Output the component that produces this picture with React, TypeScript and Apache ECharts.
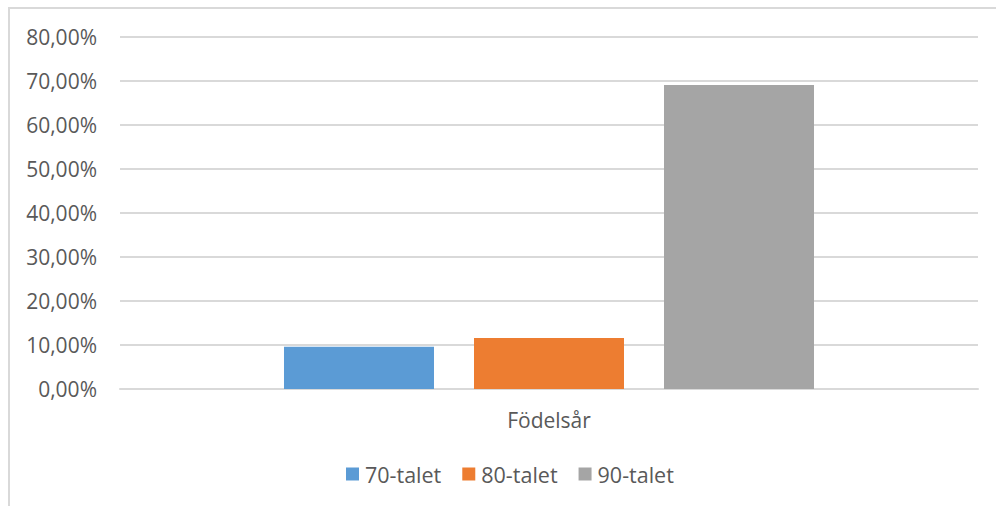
import React, { useEffect, useRef } from "react";
import * as echarts from "echarts";

const categories = ["Födelsår"];
const seriesNames = ["70-talet", "80-talet", "90-talet"];
const values70 = [0.096];
const values80 = [0.116];
const values90 = [0.691];
const colors = ["#5B9BD5", "#ED7D31", "#A5A5A5"];
const yMin = 0;
const yMax = 0.8;
const yInterval = 0.1;

export default function App() {
  const ref = useRef<HTMLDivElement>(null);
  useEffect(() => {
    if (!ref.current) return;
    const chart = echarts.init(ref.current, null, { renderer: "svg" });
    const font = "'Open Sans', 'Noto Sans', sans-serif";
    const seriesData = [values70, values80, values90];
    chart.setOption({
      animation: false,
      textStyle: { fontFamily: font },
      graphic: [
        {
          type: "rect",
          shape: { x: 9, y: 8, width: 1000, height: 600 },
          style: { fill: "none", stroke: "#d9d9d9", lineWidth: 2 },
          silent: true,
        },
      ],
      grid: { left: 120, right: 18, top: 37, bottom: 117, containLabel: false },
      legend: {
        data: seriesNames,
        bottom: 16,
        left: 341,
        icon: "rect",
        itemWidth: 13,
        itemHeight: 13,
        itemGap: 21,
        textStyle: { fontSize: 21.5, color: "#595959", fontFamily: font, padding: [0, 0, 0, 1] },
      },
      xAxis: {
        type: "category",
        data: categories,
        axisLine: { show: true, lineStyle: { color: "#d9d9d9", width: 2 } },
        axisTick: { show: false },
        axisLabel: { fontSize: 21, color: "#595959", margin: 20, fontFamily: font },
      },
      yAxis: {
        type: "value",
        min: yMin,
        max: yMax,
        interval: yInterval,
        axisLine: { show: false },
        axisTick: { show: false },
        splitLine: { lineStyle: { color: "#d9d9d9", width: 2 } },
        axisLabel: {
          fontSize: 21,
          color: "#595959",
          margin: 23,
          fontFamily: font,
          formatter: (v: number) => (v * 100).toFixed(2).replace(".", ",") + "%",
        },
      },
      series: seriesNames.map((name, i) => ({
        name,
        type: "bar",
        data: seriesData[i],
        barWidth: 150,
        barGap: "26.67%",
        itemStyle: { color: colors[i] },
      })),
    });
    return () => chart.dispose();
  }, []);
  return (
    <div
      ref={ref}
      style={{ position: "absolute", left: 0, top: 0, width: 996, height: 506, background: "#fff" }}
    />
  );
}
